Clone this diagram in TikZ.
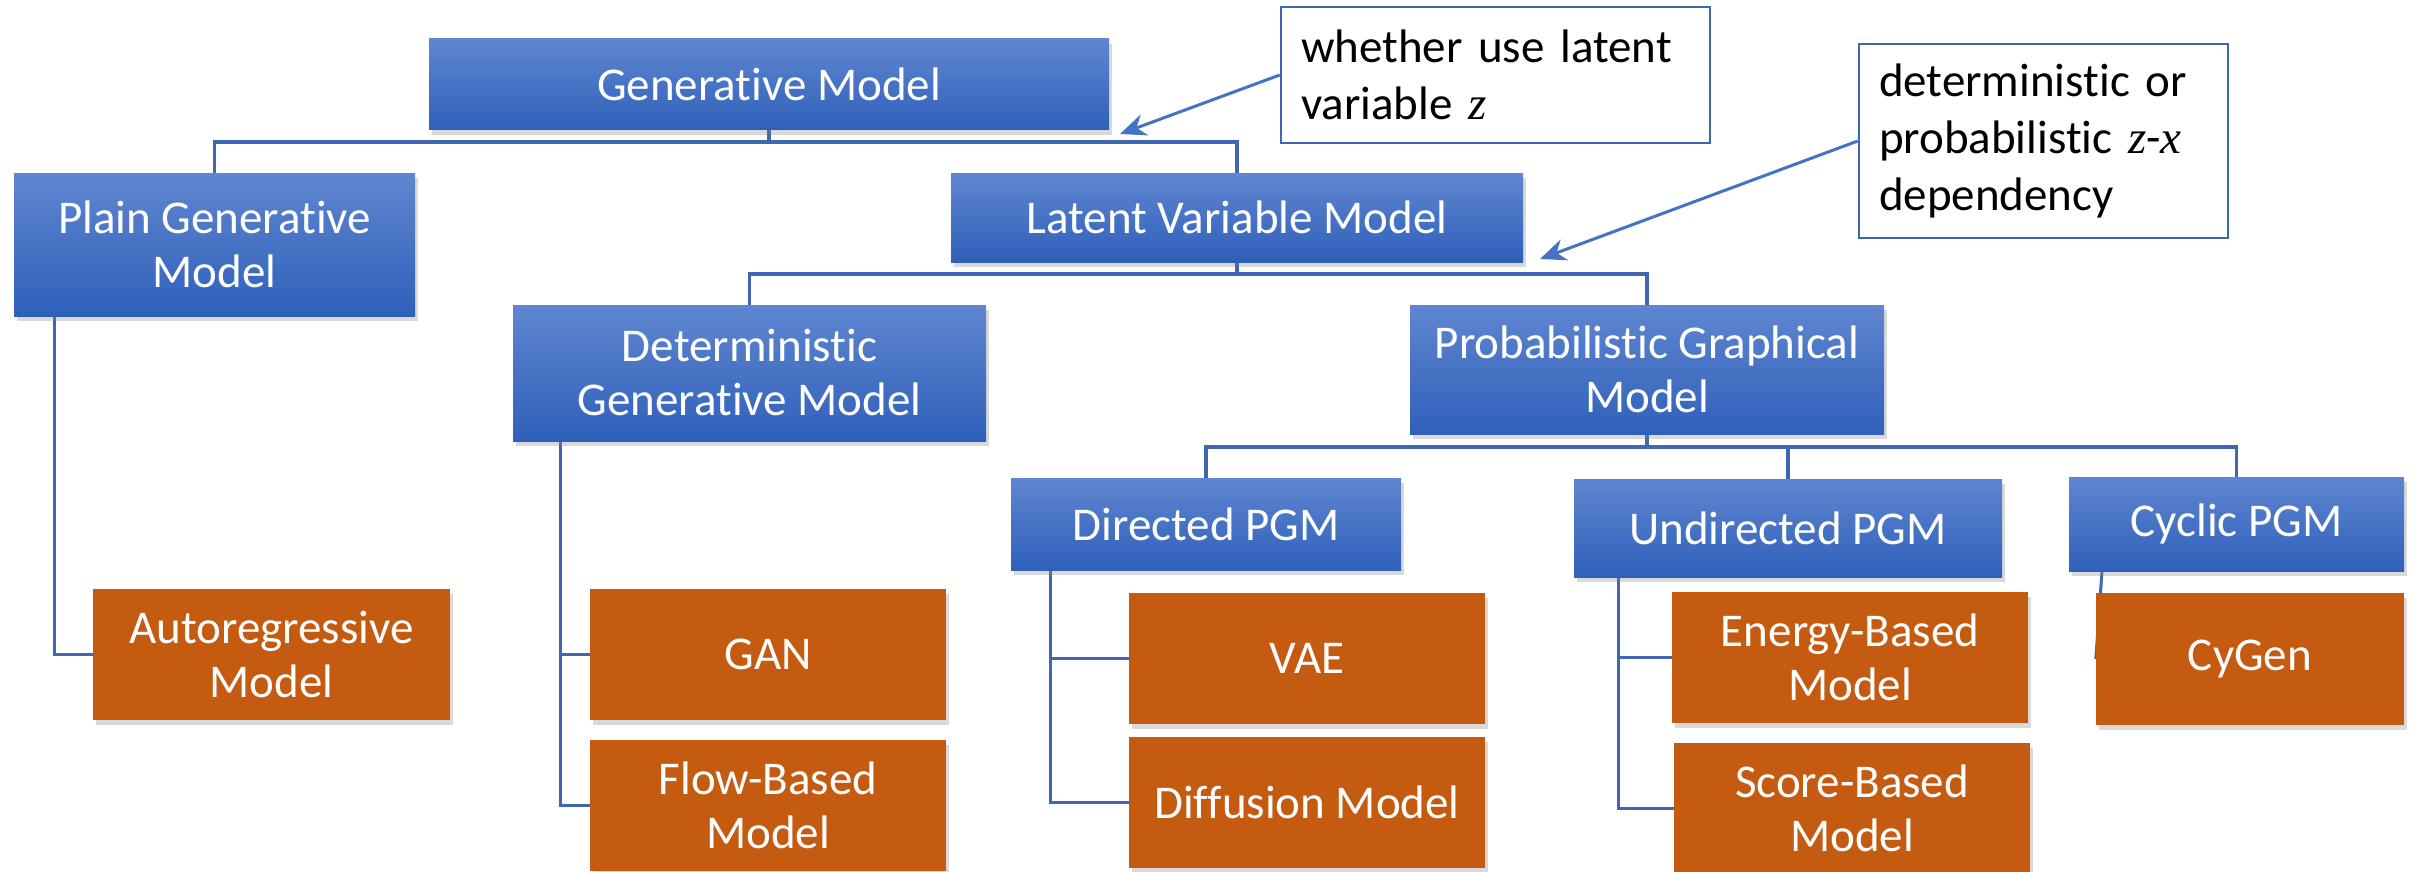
\documentclass[tikz,border=0pt]{standalone}
\usepackage{fontspec}
\setmainfont{Carlito}[Ligatures=CommonOff]
\newfontfamily\zfont{Liberation Serif}
\usetikzlibrary{shadows,arrows.meta,backgrounds}
\definecolor{bluetop}{HTML}{5F86D0}
\definecolor{bluebot}{HTML}{2F60BA}
\definecolor{orangebox}{HTML}{C55A11}
\definecolor{linkblue}{HTML}{3F67B0}
\definecolor{arrowblue}{HTML}{4472C4}
\begin{document}
\begin{tikzpicture}[x=1pt,y=-1pt,
  box/.style={rectangle, inner sep=0pt, align=center, text=white,
    font=\fontsize{47}{54}\selectfont,
    drop shadow={shadow xshift=3pt, shadow yshift=-5pt, opacity=0.3}},
  bluebox/.style={box, top color=bluetop, bottom color=bluebot, draw=none},
  leafbox/.style={box, fill=orangebox},
  note/.style={rectangle, draw=linkblue, line width=2.5pt, fill=white,
    inner xsep=20pt, inner ysep=0pt, align=left,
    font=\fontsize{47}{57}\selectfont, text=black},
  link/.style={draw=linkblue, line width=3.5pt},
  sidelink/.style={draw=linkblue, line width=3pt},
  pointer/.style={draw=arrowblue, line width=3pt, -{Stealth[length=26pt,width=22pt]}}
]
\useasboundingbox (0,0) rectangle (2420,872);

% internal nodes
\node[bluebox, minimum width=680pt, minimum height=91pt] (gen) at (769,84.5) {Generative Model};
\node[bluebox, minimum width=401pt, minimum height=143pt] (plain) at (214.5,244.5) {Plain Generative\\Model};
\node[bluebox, minimum width=572pt, minimum height=89pt] (latent) at (1237,217.5) {Latent Variable Model};
\node[bluebox, minimum width=473pt, minimum height=136pt] (det) at (749.5,373) {Deterministic\\Generative Model};
\node[bluebox, minimum width=474pt, minimum height=129pt] (prob) at (1647,369.5) {Probabilistic Graphical\\Model};
\node[bluebox, minimum width=390pt, minimum height=92pt] (dir) at (1206,524) {Directed PGM};
\node[bluebox, minimum width=428pt, minimum height=98pt] (undir) at (1788,528) {Undirected PGM};
\node[bluebox, minimum width=335pt, minimum height=94pt] (cyc) at (2236.5,524) {Cyclic PGM};

% leaves
\node[leafbox, minimum width=357pt, minimum height=131pt] (auto) at (271.5,654.5) {Autoregressive\\Model};
\node[leafbox, minimum width=356pt, minimum height=131pt] (gan) at (768,654.5) {GAN};
\node[leafbox, minimum width=356pt, minimum height=131pt] (flow) at (768,805.5) {Flow-Based\\Model};
\node[leafbox, minimum width=356pt, minimum height=131pt] (vae) at (1307,658.5) {VAE};
\node[leafbox, minimum width=356pt, minimum height=131pt] (diff) at (1307,802.5) {Diffusion Model};
\node[leafbox, minimum width=356pt, minimum height=131pt] (energy) at (1850,657.5) {Energy-Based\\Model};
\node[leafbox, minimum width=356pt, minimum height=131pt] (score) at (1852,808.5) {Score-Based\\Model};
\node[leafbox, minimum width=308pt, minimum height=132pt] (cygen) at (2250,659) {CyGen};

% notes
\node[note, minimum width=429pt, minimum height=136pt, text width=389pt] (whether) at (1495.5,75) {whether use latent\\variable {\zfont\itshape z}};
\node[note, minimum width=369pt, minimum height=194pt, text width=329pt] (depnote) at (2043.5,141) {deterministic or\\probabilistic {\zfont\itshape z}-{\zfont\itshape x}\\dependency};
\coordinate (tipA) at (1120,134);
\coordinate (tipB) at (1540,259);

\begin{scope}[on background layer]
\draw[link] (gen.south) -- ++(0,12) -| (plain.north);
\draw[link] (gen.south) -- ++(0,12) -| (latent.north);
\draw[link] (latent.south) -- ++(0,12) -| (det.north);
\draw[link] (latent.south) -- ++(0,12) -| (prob.north);
\draw[link] (prob.south) -- ++(0,13) -| (dir.north);
\draw[link] (prob.south) -- ++(0,13) -| (undir.north);
\draw[link] (prob.south) -- ++(0,13) -| (cyc.north);
\draw[sidelink] ([xshift=-160.5pt]plain.south) |- (auto.west);
\draw[sidelink] ([xshift=-189.5pt]det.south) |- (gan.west);
\draw[sidelink] ([xshift=-189.5pt]det.south) |- (flow.west);
\draw[sidelink] ([xshift=-156pt]dir.south) |- (vae.west);
\draw[sidelink] ([xshift=-156pt]dir.south) |- (diff.west);
\draw[sidelink] ([xshift=-170pt]undir.south) |- (energy.west);
\draw[sidelink] ([xshift=-170pt]undir.south) |- (score.west);
\draw[sidelink] ([xshift=-134.5pt]cyc.south) -- (cygen.west);
\end{scope}

\draw[pointer] (whether.west) -- (tipA);
\draw[pointer] (depnote.west) -- (tipB);
\end{tikzpicture}
\end{document}
